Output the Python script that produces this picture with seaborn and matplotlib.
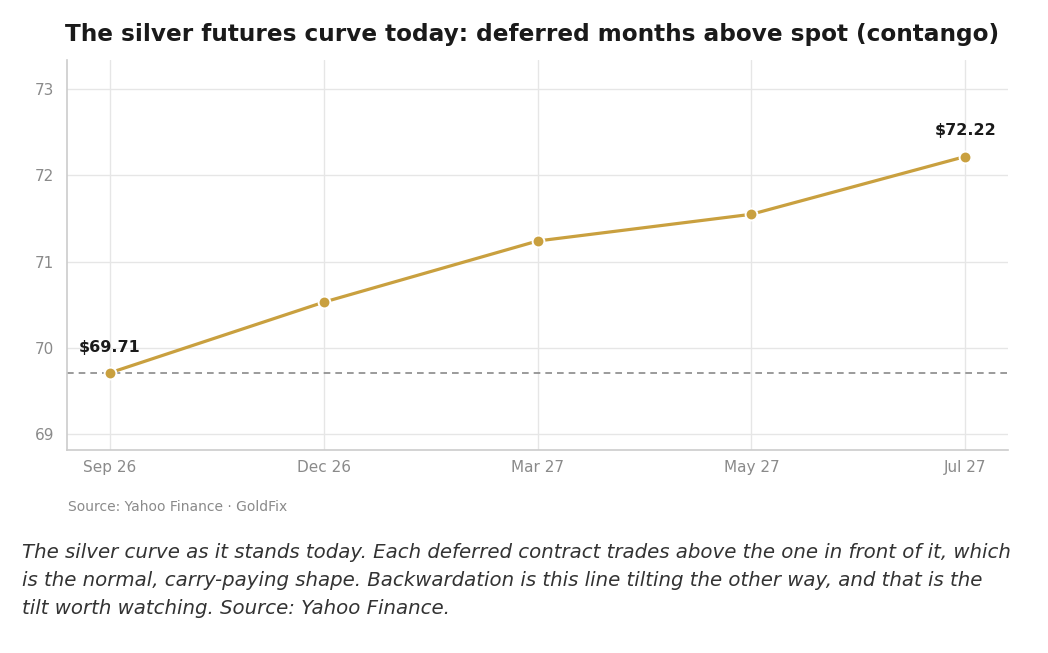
import os
import matplotlib
matplotlib.use("Agg")
import matplotlib.pyplot as plt
from matplotlib import font_manager as fm
import seaborn as sns
import pandas as pd

contracts = ["Sep 26", "Dec 26", "Mar 27", "May 27", "Jul 27"]
prices = [69.71, 70.53, 71.24, 71.55, 72.22]
yticks = [69, 70, 71, 72, 73]

title = "The silver futures curve today: deferred months above spot (contango)"
source = "Source: Yahoo Finance · GoldFix"
caption_lines = [
    "The silver curve as it stands today. Each deferred contract trades above the one in front of it, which",
    "is the normal, carry-paying shape. Backwardation is this line tilting the other way, and that is the",
    "tilt worth watching. Source: Yahoo Finance.",
]

GOLD = "#C9A03F"

sns.set_theme(style="whitegrid")
fdir = os.path.join(matplotlib.get_data_path(), "fonts", "ttf")
plt.rcParams["font.family"] = ["DejaVu Sans"]
plt.rcParams["font.sans-serif"] = ["DejaVu Sans"]

def fp(name, size):
    p = os.path.join(fdir, name)
    if os.path.exists(p):
        return fm.FontProperties(fname=p, size=size)
    return fm.FontProperties(family="DejaVu Sans", size=size)

df = pd.DataFrame({"contract": contracts, "price": prices})
df["pos"] = range(len(df))

fig = plt.figure(figsize=(10.48, 6.53), dpi=100)
ax = fig.add_axes([67 / 1048, 1 - 450 / 653, (1008 - 67) / 1048, (450 - 60) / 653])

ax.axhline(prices[0], color="#8a8a8a", lw=1.2, ls=(0, (4, 3)), zorder=1)
sns.lineplot(data=df, x="pos", y="price", ax=ax, color=GOLD, lw=2.3,
             marker="o", markersize=8.5, markeredgecolor="white",
             markeredgewidth=1.4, zorder=3)

ax.set_xlim(-0.2, 4.2)
ax.set_ylim(68.815, 73.34)
ax.set_xticks(df["pos"])
ax.set_xticklabels(contracts)
ax.set_yticks(yticks)
ax.set_xlabel("")
ax.set_ylabel("")
ax.grid(True, color="#e6e6e6", lw=1)
for s in ["top", "right"]:
    ax.spines[s].set_visible(False)
for s in ["left", "bottom"]:
    ax.spines[s].set_color("#cccccc")
    ax.spines[s].set_linewidth(1.2)
ax.tick_params(axis="both", colors="#8a8a8a", length=5,
               width=1, color="#aaaaaa")
ax.tick_params(axis="x", pad=2.5)
ax.tick_params(axis="y", pad=4)
tick_fp = fp("DejaVuSans.ttf", 11)
for lab in ax.get_xticklabels() + ax.get_yticklabels():
    lab.set_fontproperties(tick_fp)

for i in [0, len(prices) - 1]:
    ax.annotate(f"${prices[i]:.2f}", (df["pos"][i], prices[i]),
                xytext=(0, 13), textcoords="offset points", ha="center",
                va="bottom", fontproperties=fp("DejaVuSans-Bold.ttf", 11.5),
                color="#1a1a1a")

fig.text(532 / 1048, 1 - 35 / 653, title, ha="center", va="center",
         fontproperties=fp("DejaVuSans-Bold.ttf", 16.65), color="#1a1a1a")
fig.text(68 / 1048, 1 - 507 / 653, source, ha="left", va="center",
         fontproperties=fp("DejaVuSans.ttf", 10), color="#8a8a8a")

cap_fp = fp("DejaVuSans-Oblique.ttf", 14.2)
for k, line in enumerate(caption_lines):
    fig.text(22 / 1048, 1 - (552 + 28 * k) / 653, line, ha="left",
             va="center", fontproperties=cap_fp, color="#333333")

fig.savefig("out.png", dpi=100)
